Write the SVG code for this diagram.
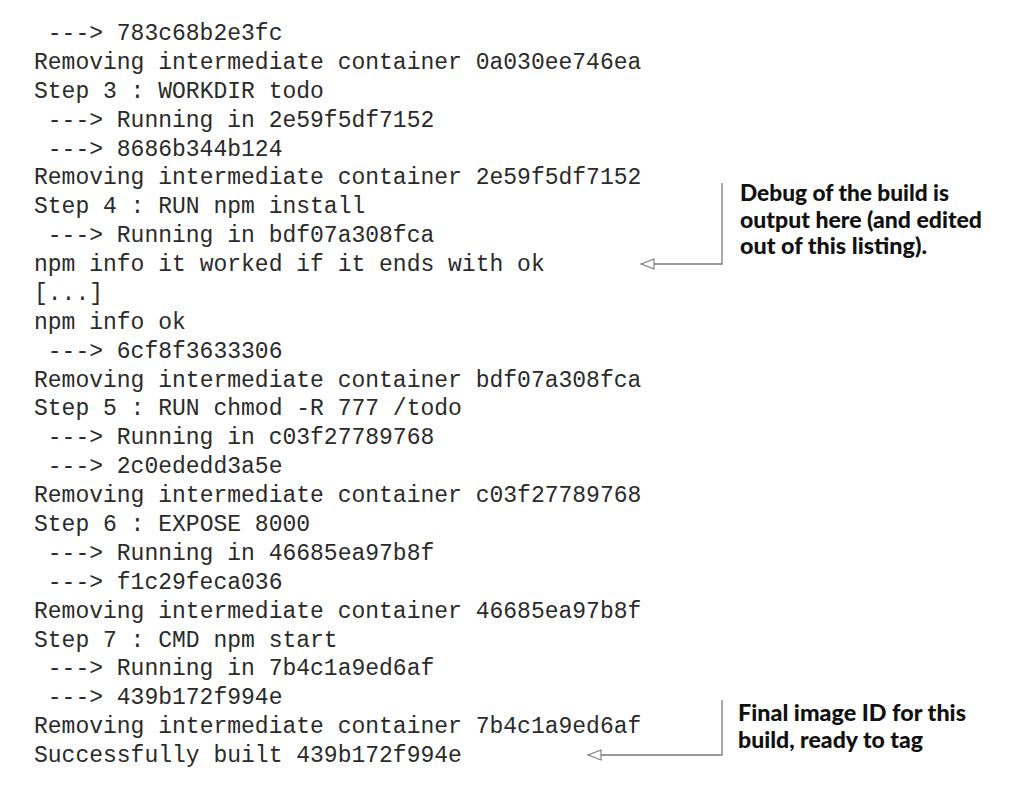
<svg xmlns="http://www.w3.org/2000/svg" width="1036" height="794" viewBox="0 0 1036 794">
<style>
.mono{font-family:"Liberation Mono","Courier New",monospace;font-size:23px;fill:#2a2a2a;}
.note{font-family:Lato,"Liberation Sans",sans-serif;font-weight:900;font-size:22px;fill:#111;}
.lead{fill:none;stroke:#7a7a7a;stroke-width:1.3;}
</style>
<defs>
<marker id="arr" markerWidth="16" markerHeight="12" refX="14" refY="6" orient="auto" markerUnits="userSpaceOnUse">
<path d="M14,6 L1,1 L1,11 Z" fill="#fff" stroke="#7a7a7a" stroke-width="1.1"/>
</marker>
</defs>
<rect width="1036" height="794" fill="#fff"/>
<g id="listing" class="mono">
<text x="47.8" y="40">---&gt; 783c68b2e3fc</text>
<text x="34" y="68.9">Removing intermediate container 0a030ee746ea</text>
<text x="34" y="97.8">Step 3 : WORKDIR todo</text>
<text x="47.8" y="126.6">---&gt; Running in 2e59f5df7152</text>
<text x="47.8" y="155.5">---&gt; 8686b344b124</text>
<text x="34" y="184.4">Removing intermediate container 2e59f5df7152</text>
<text x="34" y="213.3">Step 4 : RUN npm install</text>
<text x="47.8" y="242.2">---&gt; Running in bdf07a308fca</text>
<text x="34" y="271">npm info it worked if it ends with ok</text>
<text x="34" y="299.9">[...]</text>
<text x="34" y="328.8">npm info ok</text>
<text x="47.8" y="357.7">---&gt; 6cf8f3633306</text>
<text x="34" y="386.6">Removing intermediate container bdf07a308fca</text>
<text x="34" y="415.4">Step 5 : RUN chmod -R 777 /todo</text>
<text x="47.8" y="444.3">---&gt; Running in c03f27789768</text>
<text x="47.8" y="473.2">---&gt; 2c0ededd3a5e</text>
<text x="34" y="502.1">Removing intermediate container c03f27789768</text>
<text x="34" y="531">Step 6 : EXPOSE 8000</text>
<text x="47.8" y="559.8">---&gt; Running in 46685ea97b8f</text>
<text x="47.8" y="588.7">---&gt; f1c29feca036</text>
<text x="34" y="617.6">Removing intermediate container 46685ea97b8f</text>
<text x="34" y="646.5">Step 7 : CMD npm start</text>
<text x="47.8" y="675.4">---&gt; Running in 7b4c1a9ed6af</text>
<text x="47.8" y="704.2">---&gt; 439b172f994e</text>
<text x="34" y="733.1">Removing intermediate container 7b4c1a9ed6af</text>
<text x="34" y="762">Successfully built 439b172f994e</text>
</g>
<g id="connectors">
<path class="lead" d="M722,183 V264 H641" marker-end="url(#arr)"/>
<path class="lead" d="M722,700 V755 H588" marker-end="url(#arr)"/>
</g>
<g id="note-debug" class="note">
<text x="740" y="201" textLength="209" lengthAdjust="spacingAndGlyphs">Debug of the build is</text>
<text x="740" y="227.5" textLength="242" lengthAdjust="spacingAndGlyphs">output here (and edited</text>
<text x="740" y="254" textLength="187" lengthAdjust="spacingAndGlyphs">out of this listing).</text>
</g>
<g id="note-final" class="note">
<text x="738" y="721" textLength="228" lengthAdjust="spacingAndGlyphs">Final image ID for this</text>
<text x="738" y="747.5" textLength="185" lengthAdjust="spacingAndGlyphs">build, ready to tag</text>
</g>
</svg>
